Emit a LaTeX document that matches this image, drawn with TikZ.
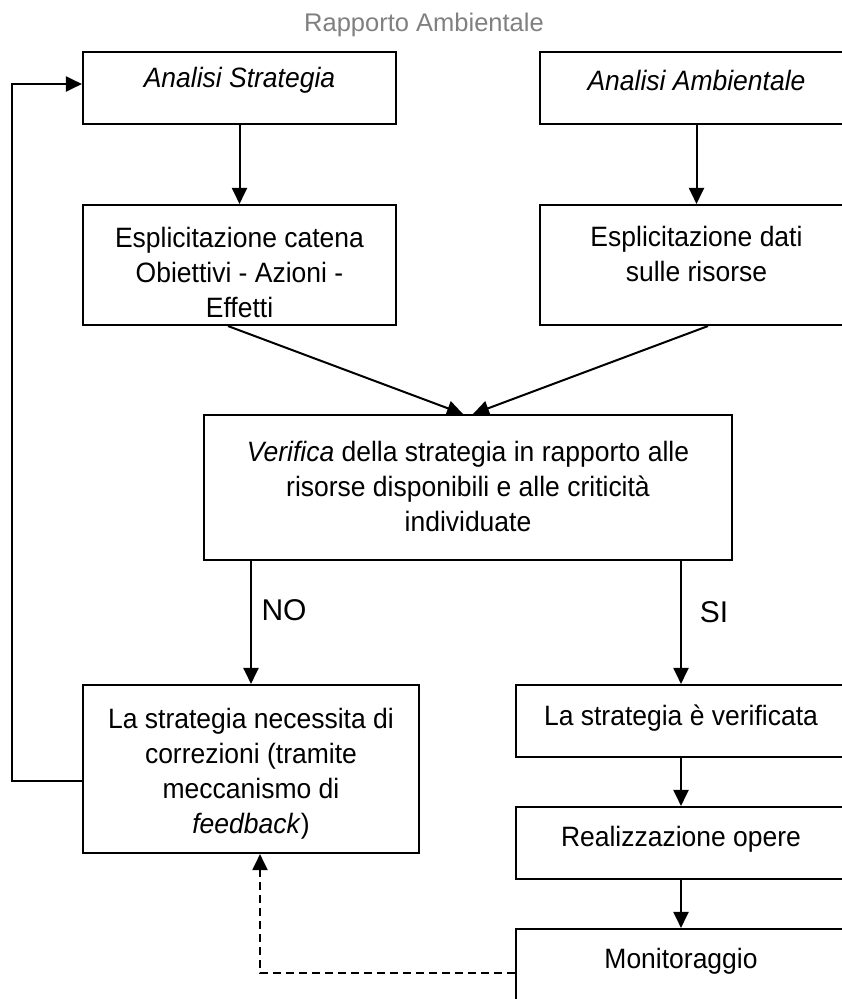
\documentclass[tikz,border=0pt]{standalone}
\usepackage{fontspec}
\setmainfont{Liberation Sans}
\newfontfamily\boxfont[FakeStretch=0.946]{Liberation Sans}
\usetikzlibrary{arrows.meta,calc}
\begin{document}
\begin{tikzpicture}[x=1pt,y=-1pt,
  box/.style={draw,line width=2.1pt,inner sep=0pt,minimum width=313pt,minimum height=72pt},
  txt/.style={align=center,font=\boxfont\fontsize{28}{35}\selectfont,inner sep=0pt},
  lbl/.style={font=\fontsize{30}{36}\selectfont,inner sep=0pt},
  arr/.style={line width=2pt,-{Triangle[length=16pt,width=15pt]}},
  dashedarr/.style={line width=2pt,dash pattern=on 8pt off 5pt,-{Triangle[length=16pt,width=15pt]}}]
\useasboundingbox (0,0) rectangle (842,999);
\clip (0,0) rectangle (842,999);
% title
\node[font=\fontsize{25.5}{30}\selectfont,text=black!50,inner sep=0pt] (title) at (424,25) {Rapporto Ambientale};
% boxes
\node[box] (boxA) at (239.5,88) {};
\node[box] (boxB) at (696.5,88) {};
\node[box,minimum height=120pt] (boxC) at (239.5,265) {};
\node[box,minimum height=120pt] (boxD) at (696.5,265) {};
\node[box,minimum width=528pt,minimum height=145pt] (boxE) at (468,487.5) {};
\node[box,minimum width=336pt,minimum height=168pt] (boxF) at (251,769) {};
\node[box,minimum width=330pt] (boxG) at (681,721) {};
\node[box,minimum width=330pt] (boxH) at (681,843) {};
\node[box,minimum width=330pt] (boxI) at (681,965) {};
% texts
\node[txt] (tA) at (239.5,80) {\itshape Analisi Strategia};
\node[txt] (tB) at (696.5,80) {\itshape Analisi Ambientale};
\node[txt] (tC) at (239.5,272) {Esplicitazione catena\\Obiettivi - Azioni -\\Effetti};
\node[txt] (tD) at (696.5,254) {Esplicitazione dati\\sulle risorse};
\node[txt] (tE) at (468,486) {\textit{Verifica} della strategia in rapporto alle\\risorse disponibili e alle criticità\\individuate};
\node[txt] (tF) at (251,774) {La strategia necessita di\\correzioni (tramite\\meccanismo di\\\textit{feedback})};
\node[txt] (tG) at (681,718) {La strategia è verificata};
\node[txt] (tH) at (681,839) {Realizzazione opere};
\node[txt] (tI) at (681,961) {Monitoraggio};
\node[lbl] (lNO) at (284,610) {NO};
\node[lbl] (lSI) at (714,612) {SI};
% connectors
\draw[arr] (boxA.south) -- (boxC.north);
\draw[arr] (boxB.south) -- (boxD.north);
\draw[arr] ($(boxC.south)+(-11.5,0)$) -- ($(boxE.north)+(-5,0)$);
\draw[arr] ($(boxD.south)+(11.5,0)$) -- ($(boxE.north)+(5,0)$);
\draw[arr] (boxE.south -| boxF.north) -- (boxF.north);
\draw[arr] (boxE.south -| boxG.north) -- (boxG.north);
\draw[arr] (boxG.south) -- (boxH.north);
\draw[arr] (boxH.south) -- (boxI.north);
\coordinate (loopB) at (12,781);
\coordinate (loopT) at (12,84);
\draw[arr] ($(boxF.west)+(0,12)$) -- (loopB) -- (loopT) -- ($(boxA.west)+(0,-4)$);
\coordinate (dashC) at (260,973);
\draw[dashedarr] ($(boxI.west)+(0,8)$) -- (dashC) -- ($(boxF.south)+(9,0)$);
\end{tikzpicture}
\end{document}
